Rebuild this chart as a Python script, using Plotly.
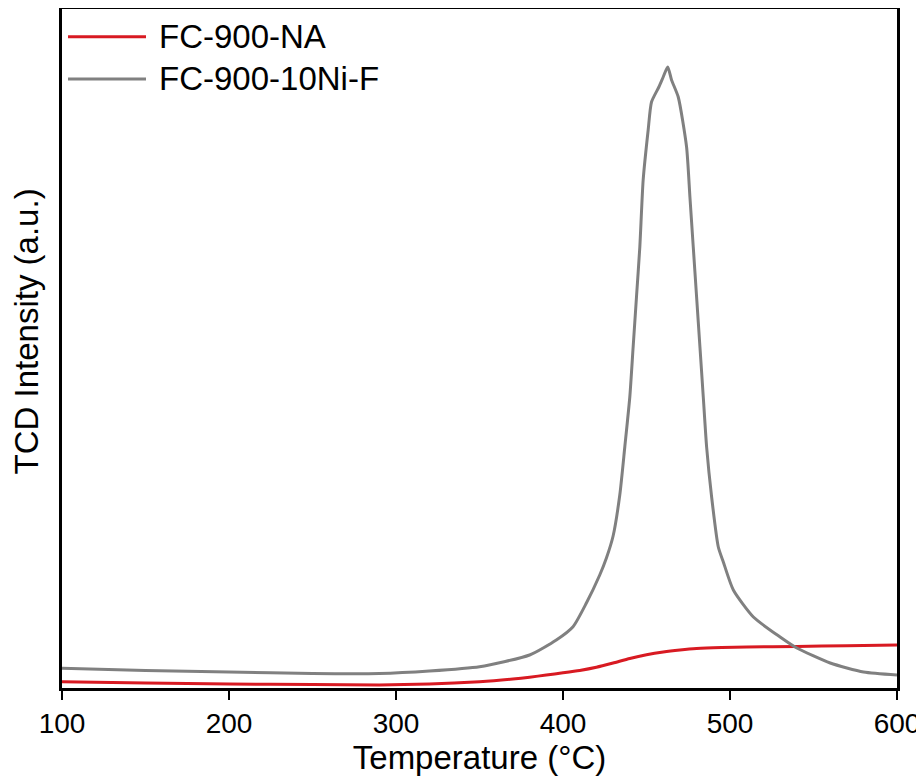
import plotly.graph_objects as go

# Temperature (°C) and TCD intensity (a.u.)
temp_na = [100, 150, 200, 250, 290, 320, 350, 370, 380, 390, 400, 410, 420, 430,
           440, 450, 460, 470, 480, 495, 510, 540, 570, 600]
tcd_na = [6.3, 5.0, 4.0, 3.5, 3.0, 4.0, 6.3, 9.0, 10.8, 13.0, 15.2, 17.6, 20.8, 25.0,
          29.5, 33.2, 36.0, 38.0, 39.5, 40.5, 41.0, 41.5, 42.3, 43.0]

temp_ni = [100, 150, 200, 250, 290, 320, 350, 380, 396, 406, 414, 422, 426, 430,
           434, 437, 440, 442, 444, 446, 448, 451, 453, 457.4, 460, 462.7, 465, 469,
           474, 476, 478, 480, 482, 484, 486, 489, 493, 496, 502, 514, 530, 540,
           560, 580, 600]
tcd_ni = [19.7, 17.5, 16.0, 14.5, 14.5, 17.0, 21.3, 33.0, 48.0, 61.3, 85.0, 113.0,
          130.0, 152.0, 193.0, 241.0, 291.0, 341.0, 391.0, 441.0, 508.0, 558.0,
          586.0, 601.0, 611.0, 621.0, 608.0, 591.0, 541.0, 491.0, 441.0, 391.0,
          341.0, 291.0, 241.0, 191.0, 141.0, 126.0, 98.0, 71.0, 51.0, 40.0, 25.0,
          16.0, 13.0]

series_names = ["FC-900-NA", "FC-900-10Ni-F"]
series_colors = ["#d81a22", "#808080"]
x_ticks = [100, 200, 300, 400, 500, 600]

fig = go.Figure()
fig.add_trace(go.Scatter(x=temp_na, y=tcd_na, mode="lines", name=series_names[0],
                         line=dict(color=series_colors[0], width=3, shape="spline",
                                   smoothing=0.6)))
fig.add_trace(go.Scatter(x=temp_ni, y=tcd_ni, mode="lines", name=series_names[1],
                         line=dict(color=series_colors[1], width=3, shape="spline",
                                   smoothing=0.6)))

# Legend drawn as a key in the top-left corner (long line samples like the original)
legend_rows_y = [0.959, 0.897]
for name, color, yy in zip(series_names, series_colors, legend_rows_y):
    fig.add_shape(type="line", xref="paper", yref="paper", x0=0.0072, x1=0.1006,
                  y0=yy, y1=yy, line=dict(color=color, width=3))
    fig.add_annotation(xref="paper", yref="paper", x=0.1138, y=yy, text=name,
                       showarrow=False, xanchor="left", yanchor="middle",
                       font=dict(size=33, color="black"))

# y-axis title
fig.add_annotation(xref="paper", yref="paper", x=-0.042, y=0.525,
                   text="TCD Intensity (a.u.)", textangle=-90, showarrow=False,
                   xanchor="center", yanchor="middle", font=dict(size=33, color="black"))

font_family = "Liberation Sans, Arial, sans-serif"
# The page body adds an 8 px offset, so the figure is 8 px smaller than the window
fig.update_layout(
    width=916, height=768,
    margin=dict(l=54, r=27, t=1, b=88, autoexpand=False),
    paper_bgcolor="white", plot_bgcolor="white",
    font=dict(family=font_family, color="black"),
    showlegend=False,
    xaxis=dict(range=[100, 600], tickvals=x_ticks, ticktext=[str(v) for v in x_ticks],
               showgrid=False, zeroline=False, showline=True, linecolor="black",
               linewidth=2.5, mirror=True, ticks="outside", ticklen=9, tickwidth=2,
               tickcolor="black", tickfont=dict(size=28), automargin=False,
               title=dict(text="Temperature (°C)", font=dict(size=33), standoff=0)),
    yaxis=dict(range=[0, 679], showgrid=False, zeroline=False, showline=True,
               linecolor="black", linewidth=2.5, mirror=True, ticks="",
               showticklabels=False, automargin=False),
)

fig.write_html("out.html")
